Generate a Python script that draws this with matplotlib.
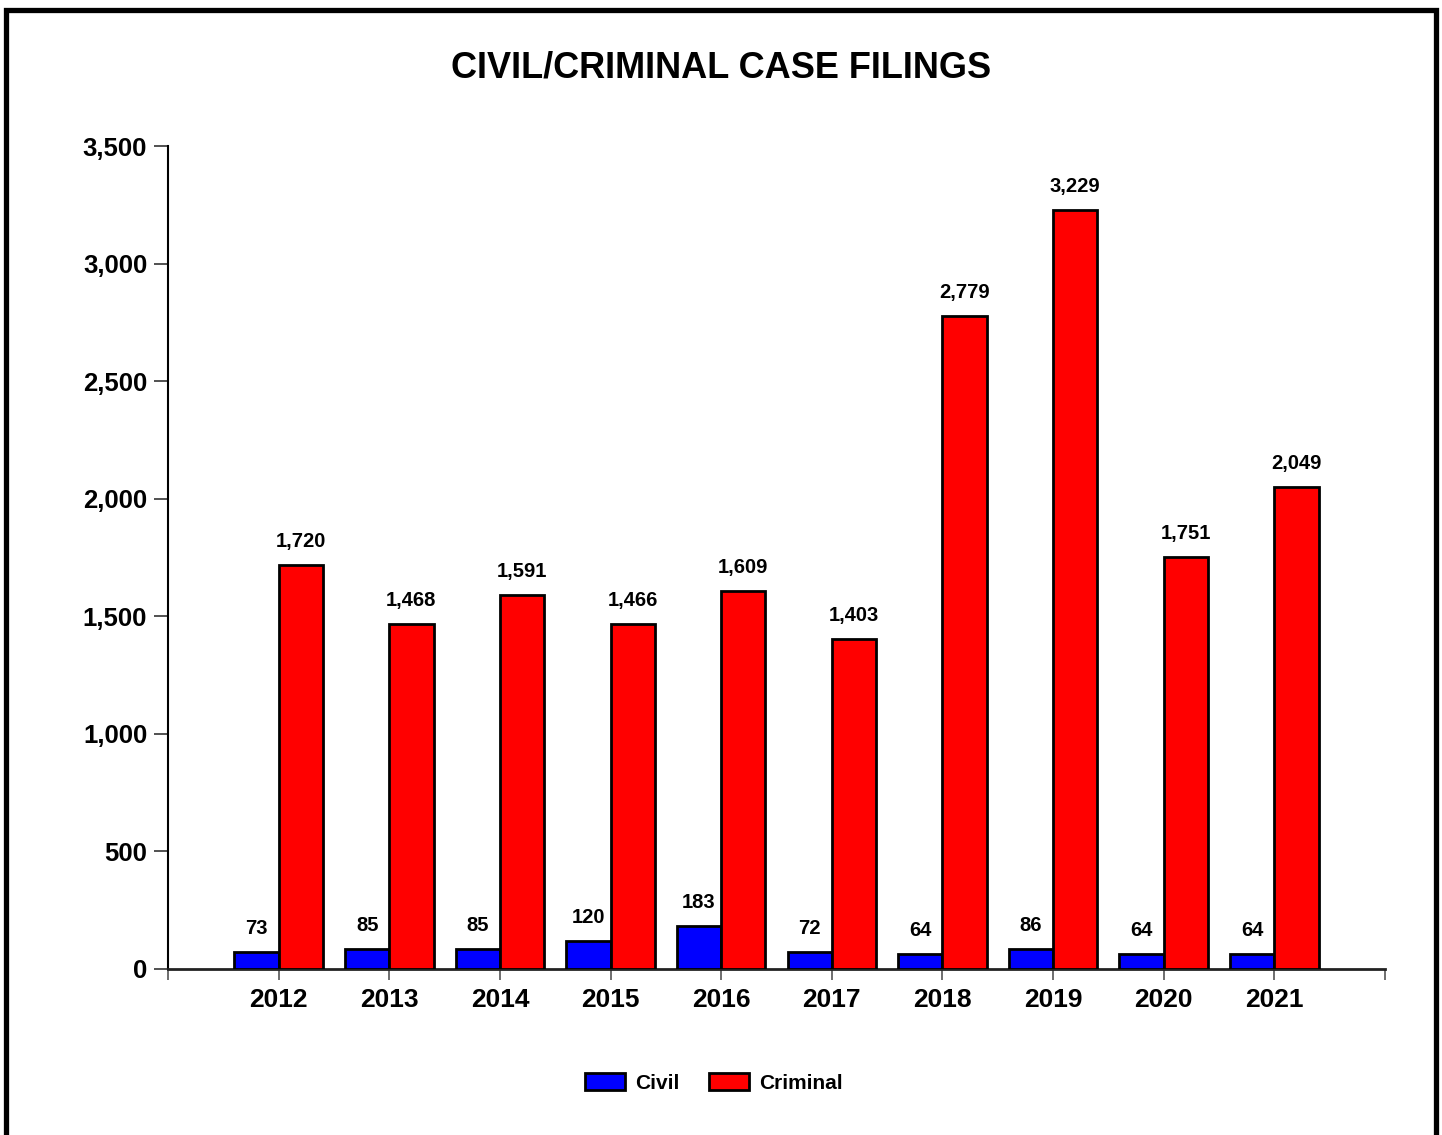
import matplotlib
matplotlib.use("Agg")
import matplotlib.pyplot as plt
from matplotlib.patches import Rectangle, Patch
import numpy as np

years = ["2012", "2013", "2014", "2015", "2016", "2017", "2018", "2019", "2020", "2021"]
civil = [73, 85, 85, 120, 183, 72, 64, 86, 64, 64]
criminal = [1720, 1468, 1591, 1466, 1609, 1403, 2779, 3229, 1751, 2049]
y_ticks = [0, 500, 1000, 1500, 2000, 2500, 3000, 3500]

plt.rcParams['font.family'] = ['Liberation Sans', 'DejaVu Sans']
plt.rcParams['font.weight'] = 'bold'

W, H = 1442, 1135
fig = plt.figure(figsize=(W / 100, H / 100), dpi=100)
fig.patch.set_facecolor('white')

# outer frame
frame = Rectangle((5.5 / W, -0.05), (1435.5 - 5.5) / W, (H - 9.5) / H + 0.05,
                  transform=fig.transFigure, fill=False, edgecolor='black',
                  linewidth=3.8, zorder=0)
fig.patches.append(frame)

ax = fig.add_axes([168 / W, 1 - 969 / H, (1385 - 168) / W, (969 - 146) / H])
x = np.arange(len(years))
bw = 0.4
b1 = ax.bar(x - bw / 2, civil, bw, color='#0000FF', edgecolor='black', linewidth=2, label='Civil', zorder=3)
b2 = ax.bar(x + bw / 2, criminal, bw, color='#FF0000', edgecolor='black', linewidth=2, label='Criminal', zorder=3)

for rect, v in zip(list(b1) + list(b2), civil + criminal):
    ax.annotate(f"{v:,}", (rect.get_x() + rect.get_width() / 2, rect.get_height()),
                xytext=(0, 14), textcoords='offset pixels', ha='center', va='bottom',
                fontsize=14.5, fontweight='bold')

ax.set_xlim(-1, len(years))
ax.set_ylim(0, 3500)
ax.set_xticks(np.arange(-1, len(years) + 1))
ax.set_xticklabels([''] + years + [''])
ax.set_yticks(y_ticks)
ax.set_yticklabels([f"{t:,}" for t in y_ticks])
ax.tick_params(axis='x', length=8, width=1.2, color='#555555', pad=6, labelsize=19)
ax.tick_params(axis='y', length=10, width=1.2, color='#333333', pad=5, labelsize=18.5)
for lab in ax.get_xticklabels() + ax.get_yticklabels():
    lab.set_fontweight('bold')

ax.spines['top'].set_visible(False)
ax.spines['right'].set_visible(False)
ax.spines['left'].set_linewidth(1.5)
ax.spines['bottom'].set_linewidth(2)
ax.spines['bottom'].set_color('#222222')

fig.text(721 / W, 1 - 68 / H, "CIVIL/CRIMINAL CASE FILINGS", ha='center', va='center',
         fontsize=26, fontweight='bold')

handles = [Patch(facecolor='#0000FF', edgecolor='black', linewidth=2, label='Civil'),
           Patch(facecolor='#FF0000', edgecolor='black', linewidth=2, label='Criminal')]
fig.legend(handles=handles, loc='center', bbox_to_anchor=(714 / W, 1 - 1083 / H), ncol=2,
           frameon=False, handlelength=1.9, handleheight=0.85,
           handletextpad=0.5, columnspacing=1.4, prop={'weight': 'bold', 'size': 15})

fig.savefig('out.png', dpi=100, facecolor='white')
